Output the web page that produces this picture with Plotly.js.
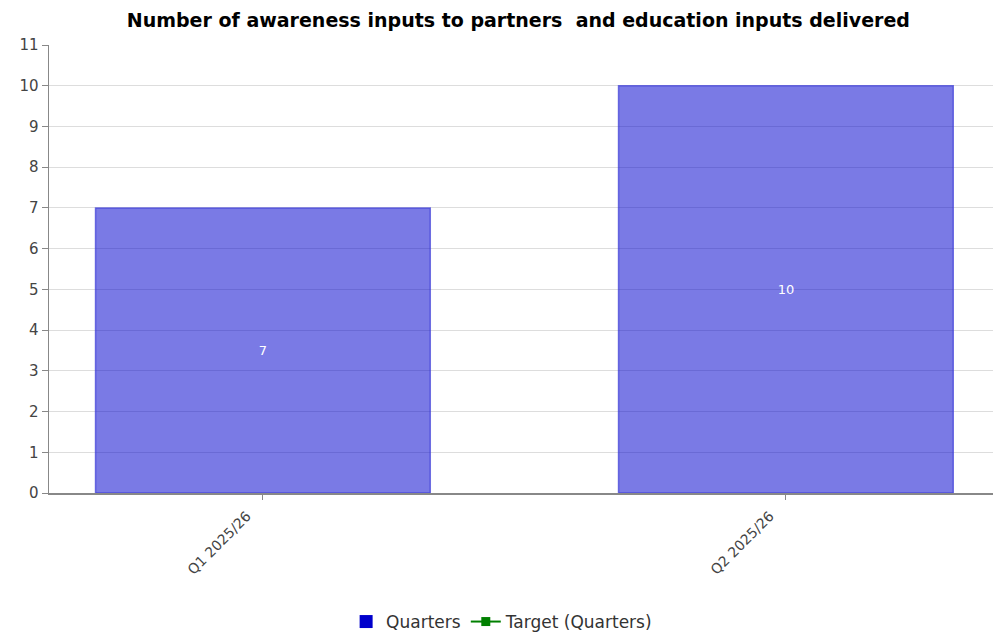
<!DOCTYPE html>
<html><head><meta charset="utf-8">
<script src="https://cdn.plot.ly/plotly-3.0.1.min.js"></script>
<style>html,body{margin:0;padding:0;background:#fff;}#chart{width:993px;height:640px;}</style>
</head><body><div id="chart"></div>
<script>
const categories = ["Q1 2025/26", "Q2 2025/26"];
const quarterValues = [7, 10];
const targetValues = [null, null];
const yTicks = [0,1,2,3,4,5,6,7,8,9,10,11];

const data = [
  {
    type: 'bar', name: 'Quarters', x: categories, y: quarterValues, showlegend: false,
    text: quarterValues.map(String), textposition: 'inside', insidetextanchor: 'middle',
    textfont: {color: '#ffffff', size: 13, family: 'DejaVu Sans'},
    marker: {color: 'rgba(0,0,205,0.52)', line: {color: 'rgba(60,60,215,0.7)', width: 1.5}},
    width: 0.64
  },
  {
    type: 'scatter', mode: 'markers', name: 'Quarters', x: categories, y: [null, null],
    marker: {color: '#0000cc', symbol: 'square', size: 13}
  },
  {
    type: 'scatter', mode: 'lines+markers', name: 'Target (Quarters)', x: categories, y: targetValues,
    line: {color: '#008000', width: 2}, marker: {color: '#008000', symbol: 'square', size: 9}
  }
];

const layout = {
  width: 993, height: 640,
  margin: {l: 49, r: 0, t: 45, b: 147},
  paper_bgcolor: '#ffffff', plot_bgcolor: '#ffffff',
  font: {family: 'DejaVu Sans', color: '#444444', size: 14},
  title: {text: 'Number of awareness inputs to partners  and education inputs delivered',
          font: {family: 'DejaVu Sans', size: 19, color: '#000000', weight: 'bold'},
          x: 0.522, xanchor: 'center', y: 0.978, yanchor: 'top'},
  showlegend: true,
  legend: {orientation: 'h', x: 0.48, xanchor: 'center', yref: 'container', y: 0.0, yanchor: 'bottom',
           font: {size: 17, color: '#333333', family: 'DejaVu Sans'}, itemwidth: 30, tracegroupgap: 0},
  xaxis: {
    type: 'category', range: [-0.409, 1.396], tickangle: -45,
    showline: true, linecolor: '#888888', linewidth: 1.5,
    ticks: 'outside', ticklen: 5, tickcolor: '#888888',
    showgrid: false, zeroline: false, fixedrange: true,
    ticklabelshift: -16, ticklabelstandoff: 3,
    tickfont: {size: 14, color: '#444444'}
  },
  yaxis: {
    range: [0, 11], tickvals: yTicks, ticktext: yTicks.map(String),
    showline: true, linecolor: '#888888', linewidth: 1.5,
    ticks: 'outside', ticklen: 6, tickcolor: '#888888',
    showgrid: true, gridcolor: '#dddddd', gridwidth: 1, zeroline: false,
    tickfont: {size: 15, color: '#444444'}, fixedrange: true
  },
  bargap: 0.36
};

Plotly.newPlot('chart', data, layout, {displayModeBar: false, staticPlot: true});
</script>
</body></html>
